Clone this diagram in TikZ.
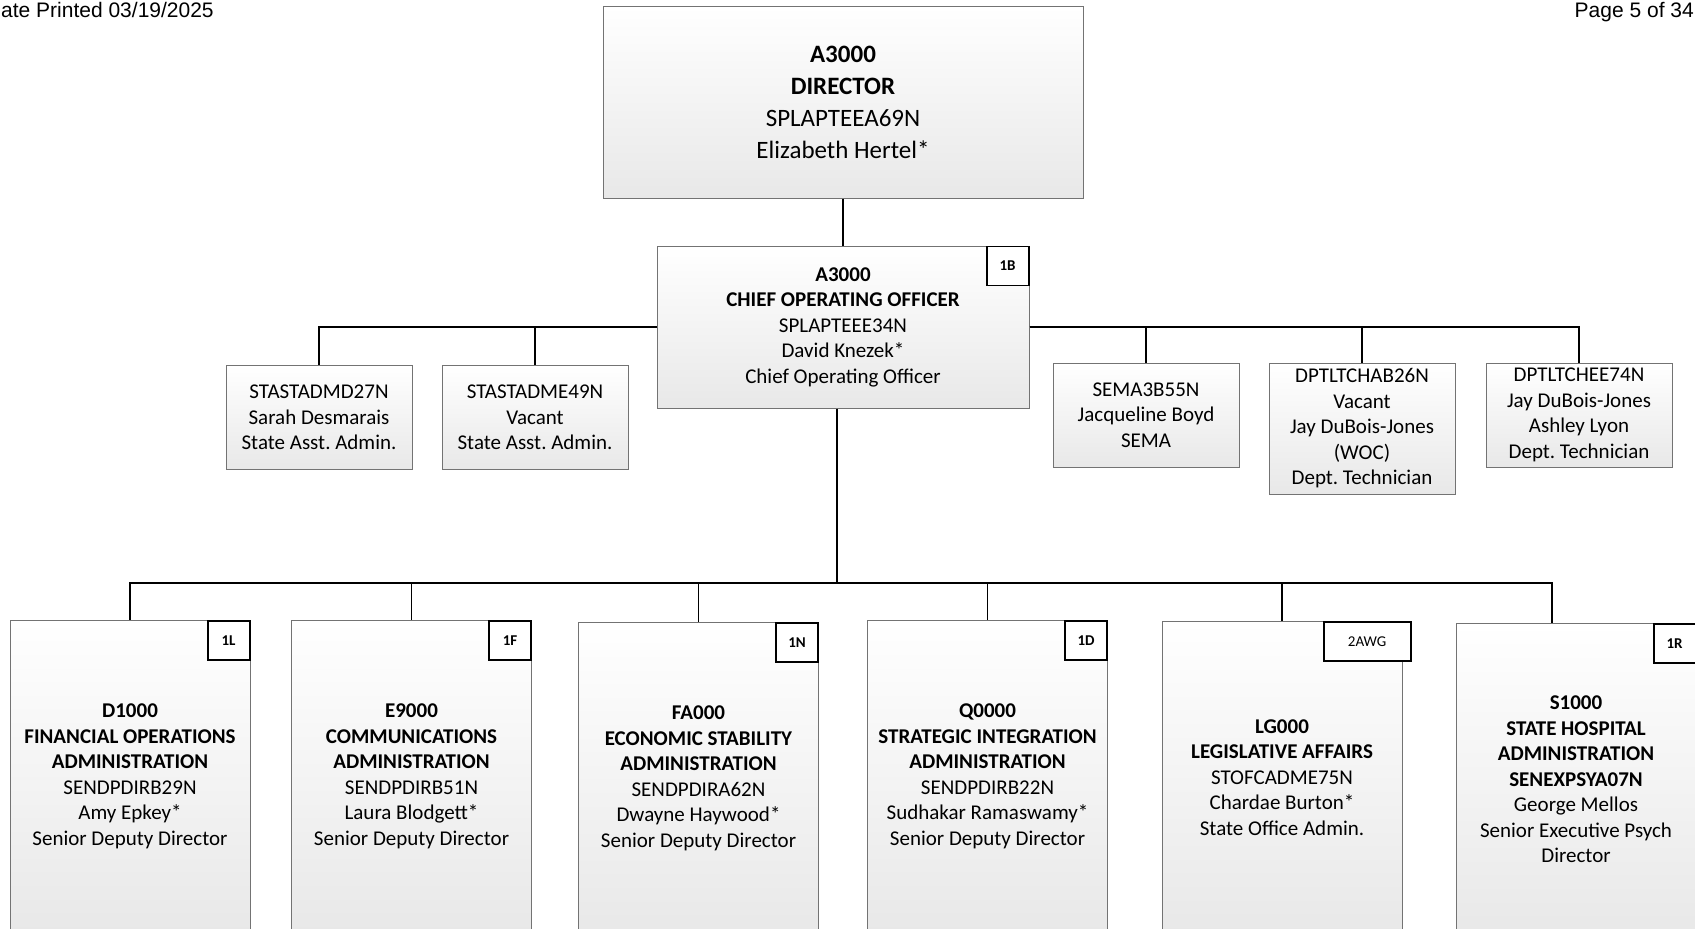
\documentclass[tikz,border=0pt]{standalone}
\usepackage{fontspec}
\setmainfont{Carlito}
\newfontfamily\hdrfont{Liberation Sans}
\usetikzlibrary{positioning}
\frenchspacing

\begin{document}
\begin{tikzpicture}[x=1pt, y=1pt,
        topnode/.style={rectangle, draw=black!55, line width=1pt, top color=white, bottom color=black!9, minimum width=480pt, minimum height=192pt, align=center, inner sep=0pt, font=\fontsize{25}{32}\selectfont},
        coonode/.style={rectangle, draw=black!55, line width=1pt, top color=white, bottom color=black!9, minimum width=372pt, minimum height=162pt, align=center, inner sep=0pt, font=\fontsize{21}{25.5}\selectfont},
        staffnode/.style={rectangle, draw=black!55, line width=1pt, top color=white, bottom color=black!9, minimum width=186pt, minimum height=104pt, align=center, inner sep=0pt, font=\fontsize{21}{25.5}\selectfont},
        divnode/.style={rectangle, draw=black!55, line width=1pt, top color=white, bottom color=black!9, minimum width=240pt, minimum height=312pt, anchor=north, align=center, inner sep=0pt, font=\fontsize{21}{25.5}\selectfont},
        tagnode/.style={rectangle, draw=black, line width=1.8pt, fill=white, minimum width=42pt, minimum height=39pt, anchor=north east, inner sep=0pt, font=\fontsize{15}{18}\selectfont},
        link/.style={draw=black, line width=1.6pt},
    ]
        \useasboundingbox (0,0) rectangle (1695,-929);
        \clip (0,0) rectangle (1695,-929);
        \node[anchor=base west, inner sep=0pt, font=\hdrfont\fontsize{21}{25}\selectfont] (printed) at (1,-17) {ate Printed 03/19/2025};
        \node[anchor=base east, inner sep=0pt, font=\hdrfont\fontsize{21}{25}\selectfont] (pageno)  at (1694,-17) {Page 5 of 34};
        \node[topnode]   (dir)   at (843,-102)   {\textbf{A3000}\\\textbf{DIRECTOR}\\SPLAPTEEA69N\\Elizabeth Hertel*};
        \node[coonode]   (coo)   at (843,-327)   {\textbf{A3000}\\\textbf{CHIEF OPERATING OFFICER}\\SPLAPTEEE34N\\David Knezek*\\Chief Operating Officer};
        \node[tagnode]   (tagB)  at (coo.north east) {\textbf{1B}};
        \node[staffnode] (asstA) at (319,-417.5)  {STASTADMD27N\\Sarah Desmarais\\State Asst. Admin.};
        \node[staffnode] (asstB) at (535,-417.5)  {STASTADME49N\\Vacant\\State Asst. Admin.};
        \node[staffnode] (sema)  at (1146,-415)   {SEMA3B55N\\Jacqueline Boyd\\SEMA};
        \node[staffnode, minimum height=131pt] (techA) at (1362,-428.5) {DPTLTCHAB26N\\Vacant\\Jay DuBois-Jones\\(WOC)\\Dept. Technician};
        \node[staffnode] (techB) at (1579,-415)   {DPTLTCHEE74N\\Jay DuBois-Jones\\Ashley Lyon\\Dept. Technician};
        \node[divnode]   (fin)   at (130,-620)    {\textbf{D1000}\\\textbf{FINANCIAL OPERATIONS}\\\textbf{ADMINISTRATION}\\SENDPDIRB29N\\Amy Epkey*\\Senior Deputy Director};
        \node[divnode]   (comm)  at (411.5,-620)  {\textbf{E9000}\\\textbf{COMMUNICATIONS}\\\textbf{ADMINISTRATION}\\SENDPDIRB51N\\Laura Blodgett*\\Senior Deputy Director};
        \node[divnode]   (econ)  at (698.5,-622)  {\textbf{FA000}\\\textbf{ECONOMIC STABILITY}\\\textbf{ADMINISTRATION}\\SENDPDIRA62N\\Dwayne Haywood*\\Senior Deputy Director};
        \node[divnode]   (strat) at (987.5,-620)  {\textbf{Q0000}\\\textbf{STRATEGIC INTEGRATION}\\\textbf{ADMINISTRATION}\\SENDPDIRB22N\\Sudhakar Ramaswamy*\\Senior Deputy Director};
        \node[divnode]   (legis) at (1282,-621)   {\textbf{LG000}\\\textbf{LEGISLATIVE AFFAIRS}\\STOFCADME75N\\Chardae Burton*\\State Office Admin.};
        \node[divnode]   (hosp)  at (1576,-623)   {\textbf{S1000}\\\textbf{STATE HOSPITAL}\\\textbf{ADMINISTRATION}\\\textbf{SENEXPSYA07N}\\George Mellos\\Senior Executive Psych\\Director};
        \node[tagnode]   (tagL)  at (fin.north east)   {\textbf{1L}};
        \node[tagnode]   (tagF)  at (comm.north east)  {\textbf{1F}};
        \node[tagnode]   (tagN)  at (econ.north east)  {\textbf{1N}};
        \node[tagnode]   (tagD)  at (strat.north east) {\textbf{1D}};
        \node[tagnode, minimum width=87pt] (tagAWG) at ([xshift=9pt]legis.north east) {2AWG};
        \node[tagnode]   (tagR)  at (hosp.north east)  {\textbf{1R}};
        \coordinate (bus) at (837,-583);
        \draw[link] (dir.south) -- (coo.north);
        \draw[link] (coo.west) -| (asstA.north);
        \draw[link] (coo.west) -| (asstB.north);
        \draw[link] (coo.east) -| (sema.north);
        \draw[link] (coo.east) -| (techA.north);
        \draw[link] (coo.east) -| (techB.north);
        \draw[link] (bus |- coo.south) -- (bus);
        \draw[link] (bus) -| (fin.north);
        \draw[link] (bus) -| (comm.north);
        \draw[link] (bus) -| (econ.north);
        \draw[link] (bus) -| (strat.north);
        \draw[link] (bus) -| (legis.north);
        \draw[link] (bus) -| ([xshift=-24pt]hosp.north);
    \end{tikzpicture}
\end{document}
